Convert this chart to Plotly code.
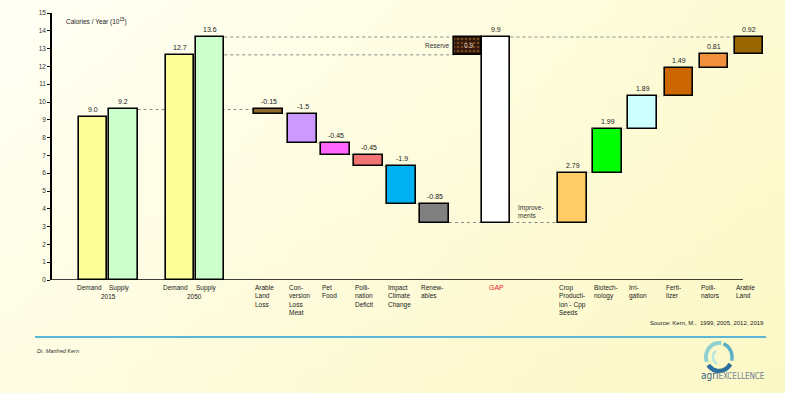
import plotly.graph_objects as go
import numpy as np
import zlib, struct, base64

# ---------------- data ----------------
base_labels = ["Demand", "Supply", "Demand", "Supply"]
base_years = ["2015", "2050"]
base_values = [9.15, 9.58, 12.65, 13.65]
base_value_text = ["9.0", "9.2", "12.7", "13.6"]
base_colors = ["#ffff99", "#ccffcc", "#ffff99", "#ccffcc"]

loss_labels = ["Arable<br>Land<br>Loss", "Con-<br>version<br>Loss<br>Meat", "Pet<br>Food",
               "Polli-<br>nation<br>Deficit", "Impact<br>Climate<br>Change", "Renew-<br>ables"]
loss_values = [-0.25, -1.65, -0.65, -0.65, -2.1, -1.05]
loss_text = ["-0.15", "-1.5", "-0.45", "-0.45", "-1.9", "-0.85"]
loss_colors = ["#8b6a2b", "#cc99ff", "#ff66ff", "#f07474", "#00b0f0", "#808080"]

reserve_label = "Reserve"
reserve_text = "0.9"
gap_label = "GAP"
gap_text = "9.9"

gain_labels = ["Crop<br>Producti-<br>ion - Cpp<br>Seeds", "Biotech-<br>nology", "Irri-<br>gation",
               "Ferti-<br>lizer", "Polli-<br>nators", "Arable<br>Land"]
gain_values = [2.8, 2.45, 1.85, 1.6, 0.75, 1.0]
gain_text = ["2.79", "1.99", "1.89", "1.49", "0.81", "0.92"]
gain_colors = ["#ffcc66", "#00ff00", "#ccffff", "#cc6600", "#f0903c", "#996600"]

# ---------------- layout constants ----------------
W, H = 785, 393
ML, MR, MT, MB = 52, 10, 13, 113
PW, PH = W - ML - MR, H - MT - MB
SLOT = 34.0
base_pos = [1.21, 2.10, 3.76, 4.65]
loss_pos = [6.38, 7.37, 8.35, 9.32, 10.28, 11.25]
reserve_pos, gap_pos = 12.24, 13.07
gain_pos = [15.31, 16.35, 17.37, 18.44, 19.47, 20.50]
pair_w, step_w = 0.83, 0.85
FONT = "Liberation Sans, Arial, sans-serif"


def xpp(px):
    return (px - ML) / PW


def ypp(py):
    return (H - MB - py) / PH


# ---------------- waterfall geometry ----------------
loss_tops, loss_bases = [], []
level = base_values[1]
for v in loss_values:
    loss_tops.append(level)
    level += v
    loss_bases.append(level)
gap_bottom = level
gap_top = base_values[3]
reserve_bottom, reserve_top = base_values[2], base_values[3]

gain_bases, gain_tops = [], []
level = gap_bottom
for v in gain_values:
    gain_bases.append(level)
    level += v
    gain_tops.append(level)

fig = go.Figure()
line = dict(color="black", width=1.6)

fig.add_trace(go.Bar(x=base_pos, y=base_values, base=[0] * 4, width=[pair_w] * 4,
                     marker=dict(color=base_colors, line=line), hoverinfo="skip"))
fig.add_trace(go.Bar(x=loss_pos, y=[-v for v in loss_values], base=loss_bases, width=[step_w] * 6,
                     marker=dict(color=loss_colors, line=line), hoverinfo="skip"))
fig.add_trace(go.Bar(x=[reserve_pos], y=[reserve_top - reserve_bottom], base=[reserve_bottom],
                     width=[pair_w],
                     marker=dict(color="#2e1608", line=line,
                                 pattern=dict(shape=".", fgcolor="#c0773a", bgcolor="#2e1608",
                                              size=4, solidity=0.35)),
                     hoverinfo="skip"))
fig.add_trace(go.Bar(x=[gap_pos], y=[gap_top - gap_bottom], base=[gap_bottom], width=[pair_w],
                     marker=dict(color="white", line=line), hoverinfo="skip"))
fig.add_trace(go.Bar(x=gain_pos, y=gain_values, base=gain_bases, width=[step_w] * 6,
                     marker=dict(color=gain_colors, line=line), hoverinfo="skip"))

# ---------------- connectors ----------------
shapes = []


def dotted(x0, x1, y, color="#8a8a8a", width=1):
    shapes.append(dict(type="line", xref="x", yref="y", x0=x0, x1=x1, y0=y, y1=y,
                       line=dict(color=color, width=width, dash="dot"), layer="below"))


dotted(base_pos[1] + pair_w / 2, loss_pos[0] - step_w / 2, base_values[1])
dotted(base_pos[3] + pair_w / 2, reserve_pos - pair_w / 2, base_values[2])
dotted(base_pos[3] + pair_w / 2, reserve_pos - pair_w / 2, base_values[3])
dotted(gap_pos + pair_w / 2, gain_pos[-1] - step_w / 2, base_values[3])
dotted(loss_pos[-1] + step_w / 2, gap_pos - pair_w / 2, gap_bottom)
dotted(gap_pos + pair_w / 2, gain_pos[0] - step_w / 2, gap_bottom)
faint = "rgba(160,160,160,0.45)"
for i in range(len(loss_pos) - 1):
    dotted(loss_pos[i] + step_w / 2, loss_pos[i + 1] - step_w / 2, loss_bases[i], faint)
for i in range(len(gain_pos) - 1):
    dotted(gain_pos[i] + step_w / 2, gain_pos[i + 1] - step_w / 2, gain_tops[i], faint)

# x axis line (ends before last bar)
shapes.append(dict(type="line", xref="x", yref="y", x0=0, x1=(743 - ML) / SLOT, y0=0, y1=0,
                   line=dict(color="black", width=1.6)))
# blue separator line
shapes.append(dict(type="line", xref="paper", yref="paper", x0=xpp(35), x1=xpp(766),
                   y0=ypp(337), y1=ypp(337), line=dict(color="#5cb6d8", width=2)))

# logo swirl
cx, cy, r = 719, 357, 13.0


def arc(a0, a1, rx, ry, color, width):
    t = np.radians(np.linspace(a0, a1, 30))
    pts = [(xpp(cx + rx * np.cos(a)), ypp(cy - ry * np.sin(a))) for a in t]
    path = "M " + " L ".join(f"{px:.5f},{py:.5f}" for px, py in pts)
    shapes.append(dict(type="path", xref="paper", yref="paper", path=path,
                       line=dict(color=color, width=width)))


arc(80, 200, r, r + 1, "#8fd0d0", 4)
arc(215, 330, r, r + 1, "#2d6f9c", 4.5)
arc(345, 430, r, r + 1, "#5ab0c8", 3.5)
arc(120, 250, 6, 7, "#b8e4e0", 2.5)

# ---------------- annotations ----------------
ann = []
small = dict(family=FONT, size=7, color="#1a1a1a")


def label_above(x, y, text, shift=2):
    ann.append(dict(x=x, y=y, xref="x", yref="y", text=text, showarrow=False,
                    yanchor="bottom", yshift=shift, font=small))


for x, v, t in zip(base_pos, base_values, base_value_text):
    label_above(x, v, t)
for x, top, t in zip(loss_pos, loss_tops, loss_text):
    label_above(x, top, t)
for x, top, t in zip(gain_pos, gain_tops, gain_text):
    label_above(x, top, t)
label_above(gap_pos, gap_top, gap_text)
ann.append(dict(x=reserve_pos, y=(reserve_top + reserve_bottom) / 2, xref="x", yref="y",
                text=reserve_text, showarrow=False, font=dict(family=FONT, size=6.5, color="#e8d8c8")))
ann.append(dict(x=reserve_pos - pair_w / 2, y=(reserve_top + reserve_bottom) / 2, xref="x", yref="y",
                text=reserve_label, showarrow=False, xanchor="right", xshift=-2,
                font=dict(family=FONT, size=6.5, color="#333")))
ann.append(dict(x=gap_pos + pair_w / 2, y=gap_bottom, xref="x", yref="y",
                text="Improve-<br>ments", showarrow=False, xanchor="left", yanchor="bottom",
                align="left", xshift=6, yshift=2, font=dict(family=FONT, size=6.5, color="#333")))

cat_font = dict(family=FONT, size=6.5, color="#1a1a1a")
for x, t in zip(base_pos, base_labels):
    ann.append(dict(x=x, y=0, xref="x", yref="y", text=t, showarrow=False, xanchor="center",
                    yanchor="top", xshift=-4, yshift=-2, font=cat_font))
for i, yr in enumerate(base_years):
    xm = (base_pos[2 * i] + base_pos[2 * i + 1]) / 2
    ann.append(dict(x=xm, y=0, xref="x", yref="y", text=yr, showarrow=False, xanchor="center",
                    yanchor="top", yshift=-11, font=cat_font))
for x, t in zip(loss_pos + gain_pos, loss_labels + gain_labels):
    ann.append(dict(x=x - step_w / 2, y=0, xref="x", yref="y", text=t, showarrow=False,
                    xanchor="left", align="left", yanchor="top", yshift=-2, xshift=-1, font=cat_font))
ann.append(dict(x=gap_pos, y=0, xref="x", yref="y", text=gap_label, showarrow=False,
                xanchor="center", yanchor="top", yshift=-2,
                font=dict(family=FONT, size=7, color="#e8202a")))

ann.append(dict(x=xpp(64), y=ypp(15), xref="paper", yref="paper",
                text="Calories / Year (10<sup>15</sup>)", showarrow=False, xanchor="left",
                font=dict(family=FONT, size=6.5, color="#1a1a1a")))
ann.append(dict(x=xpp(766), y=ypp(328), xref="paper", yref="paper",
                text="Source: Kern, M.,  1999, 2005, 2012, 2019", showarrow=False, xanchor="right",
                font=dict(family=FONT, size=6, color="#1a1a1a")))
ann.append(dict(x=xpp(35), y=ypp(356), xref="paper", yref="paper",
                text="<i>Dr. Manfred Kern</i>", showarrow=False, xanchor="left",
                font=dict(family=FONT, size=5.5, color="#333")))
ann.append(dict(x=xpp(767), y=ypp(383), xref="paper", yref="paper",
                text="<span style='font-size:10px;color:#3b6486'>agri</span>EXCELLENCE",
                showarrow=False, xanchor="right",
                font=dict(family="DejaVu Sans Condensed, DejaVu Sans, sans-serif", size=8, color="#6b8296")))

# ---------------- background gradient ----------------


def make_png(w, h):
    tl, tr, bl, br = (255, 255, 246), (253, 251, 212), (254, 252, 226), (252, 248, 198)
    rows = []
    for yy in range(h):
        fy = yy / (h - 1)
        row = bytearray([0])
        for xx in range(w):
            fx = xx / (w - 1)
            for c in range(3):
                top = tl[c] * (1 - fx) + tr[c] * fx
                bot = bl[c] * (1 - fx) + br[c] * fx
                row.append(int(round(top * (1 - fy) + bot * fy)))
        rows.append(bytes(row))
    raw = b"".join(rows)

    def chunk(t, d):
        return struct.pack(">I", len(d)) + t + d + struct.pack(">I", zlib.crc32(t + d) & 0xFFFFFFFF)

    return (b"\x89PNG\r\n\x1a\n" + chunk(b"IHDR", struct.pack(">IIBBBBB", w, h, 8, 2, 0, 0, 0))
            + chunk(b"IDAT", zlib.compress(raw)) + chunk(b"IEND", b""))


png_uri = "data:image/png;base64," + base64.b64encode(make_png(64, 32)).decode()

fig.update_layout(
    width=W, height=H,
    margin=dict(l=ML, r=MR, t=MT, b=MB, pad=0),
    paper_bgcolor="#fefce2", plot_bgcolor="rgba(0,0,0,0)",
    showlegend=False, barmode="overlay", bargap=0,
    shapes=shapes, annotations=ann,
    images=[dict(source=png_uri, xref="paper", yref="paper", x=-ML / PW, y=1 + MT / PH,
                 sizex=W / PW, sizey=H / PH, sizing="stretch", xanchor="left", yanchor="top",
                 layer="below")],
    xaxis=dict(range=[0, PW / SLOT], showgrid=False, zeroline=False, showline=False,
               showticklabels=False, ticks="", fixedrange=True),
    yaxis=dict(range=[0, 15], dtick=1, showgrid=False, zeroline=False, showline=True,
               linecolor="black", linewidth=1.6, ticks="outside", ticklen=3, tickwidth=1,
               tickcolor="black", tickfont=dict(family=FONT, size=6.5, color="#333"),
               fixedrange=True),
)

fig.write_html("out.html")
